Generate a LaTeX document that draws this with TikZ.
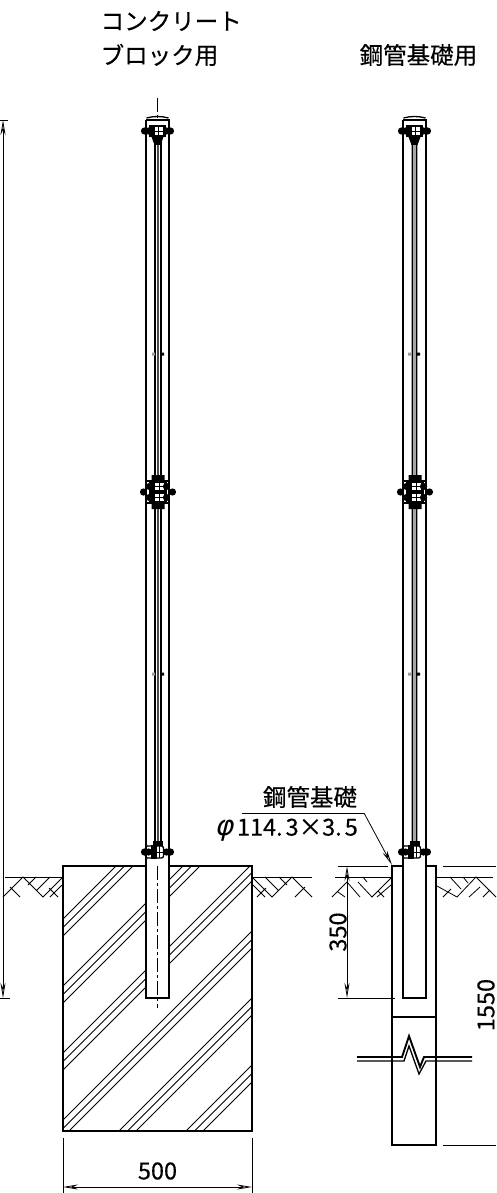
\documentclass[tikz,border=0pt]{standalone}
\usepackage{fontspec}
\setmainfont[FakeBold=0.4]{Noto Sans CJK JP}
\newfontfamily\slantfont[FakeSlant=0.25]{DejaVu Sans}
\usetikzlibrary{arrows.meta,calc}
\tikzset{
  heavy/.style={line width=1.9pt},
  medium/.style={line width=1.3pt},
  fine/.style={line width=.8pt},
  centerline/.style={line width=.8pt,dash pattern=on 14pt off 3pt on 3pt off 3pt},
  dimline/.style={line width=.8pt,{Stealth[open,length=15pt,width=5pt]}-{Stealth[open,length=15pt,width=5pt]}},
  label/.style={inner sep=0,font=\fontsize{23.5}{23.5}\selectfont},
  bolt/.pic={\fill (0,0) circle (3.6);},
  capclamp/.pic={
    \draw[medium] (-12,-11) -- (12,-11);
    \draw[medium] (-11,-13) .. controls (-4,-15) and (4,-15) .. (11,-13);
    \fill (-9,-6) rectangle (8,6);
    \fill[white] (-3,-4) rectangle (5,4);
    \draw[fine] (1,-5) -- (1,5) (-4,0) -- (6,0);
    \foreach \bx in {-13,-9,13,9} \pic at (\bx,0) {bolt};
    \fill (-6,6) -- (6,6) -- (3,14) -- (-3,14) -- cycle;
  },
  midclamp/.pic={
    \draw[medium] (-12,-11) rectangle (12,11);
    \fill (-9,-12) rectangle (9,12);
    \foreach \gy in {-5.5,5.5} {
      \fill[white] (-3,\gy-3.5) rectangle (6,\gy+3.5);
      \draw[fine] (1.5,\gy-4.5) -- (1.5,\gy+4.5) (-4,\gy) -- (7,\gy);
      \pic at (-8,\gy) {bolt};
      \pic at (9,\gy) {bolt};
    }
    \foreach \bx in {-14,15} \pic at (\bx,0) {bolt};
    \fill (-6,-17) rectangle (7,-11) (-6,11) rectangle (7,17);
  },
  baseclamp/.pic={
    \draw[medium,rounded corners=2pt] (-12,-6) rectangle (6,6);
    \fill (-7,-7) rectangle (-1,7);
    \fill (-5,-11) rectangle (5,-6);
    \foreach \bx in {-13,-9,9,13} \pic at (\bx,0) {bolt};
    \draw[fine] (2,-6) -- (2,6) (-1,0) -- (6,0);
  },
}
\begin{document}
\begin{tikzpicture}[x=1pt,y=-1pt]
\useasboundingbox (0,0) rectangle (496,1193);

% Titles
\node[label,anchor=west] (title1) at (100.5,21) {コンクリート};
\node[label,anchor=west] (title2) at (100.5,55) {ブロック用};
\node[label,anchor=west] (title3) at (359.5,55) {鋼管基礎用};

% Block
\begin{scope}
\clip (63,866) rectangle (252,1131);
\foreach \k in {0,...,5}
  \foreach \d in {0,8.5,17} {
    \pgfmathsetmacro\c{982+67*\k+\d}
    \draw[fine] (\c-1131,1131) -- (\c-866,866);
  }
\end{scope}
\draw[heavy] (63,866) rectangle (252,1131);

% Left pole
\fill[white] (146,860) rectangle (169,998);
\draw[heavy] (146,120) -- (146,998) -- (169,998) -- (169,120);
\draw[medium] (155,135) -- (155,845) (161,135) -- (161,845);
\draw[medium,black!70] (158,135) -- (158,845);
\draw[centerline] (157.5,98) -- (157.5,120);
\draw[centerline] (157.5,866) -- (157.5,1008);
\pic at (157.5,131) {capclamp};
\pic at (157.5,492) {midclamp};
\pic at (157.5,852) {baseclamp};
\fill (161,352.5) rectangle (164,355.5) (161,672.5) rectangle (164,675.5);
\fill[black!40] (152,352.5) rectangle (155,355.5) (152,672.5) rectangle (155,675.5);

% Foundation
\draw[heavy] (403,866) -- (392,866) -- (392,1145) -- (436,1145) -- (436,866) -- (426,866);
\draw[heavy] (392,1017) -- (436,1017);

% Right pole
\draw[heavy] (403,120) -- (403,998) -- (426,998) -- (426,120);
\draw[line width=7pt,black!35] (414.5,135) -- (414.5,845);
\draw[medium] (412.5,135) -- (412.5,845) (416.5,135) -- (416.5,845);
\pic at (414.5,131) {capclamp};
\pic at (414.5,492) {midclamp};
\pic at (414.5,852) {baseclamp};
\fill (417,352.5) rectangle (420,355.5) (417,672.5) rectangle (420,675.5);
\fill[black!40] (408,352.5) rectangle (411,355.5) (408,672.5) rectangle (411,675.5);

% Break mark
\draw[heavy] (357,1057) -- (402,1057) -- (409,1036) -- (420,1067) -- (424,1057) -- (472,1057);
\draw[medium] (357,1061) -- (404,1061) -- (409,1046) -- (419,1074) -- (426,1061) -- (472,1061);

% Ground
\draw[fine] (5,877) -- (63,877) (252,877) -- (312,877);
\draw[fine] (3,897) -- (23,877) -- (43,897) -- (62,878) (10,887) -- (20,897) (28,885) -- (36,877) (37,890) -- (50,877) (49,888) -- (58,897) (50,897) -- (62,885);
\draw[fine] (312,897) -- (292,877) -- (272,897) -- (253,878) (305,887) -- (295,897) (287,885) -- (279,877) (278,890) -- (265,877) (266,888) -- (257,897) (265,897) -- (253,885);
\draw[fine] (335,877) -- (392,877) (437,877) -- (493,877);
\draw[fine] (332,897) -- (347,882) -- (360,897) (358,882) -- (372,897) -- (391,878) (338,892) -- (345,897) (363,877) -- (367,882) (377,897) -- (391,885) (378,891) -- (384,897);
\draw[fine] (437,886) -- (457,897) -- (476,877) -- (496,897) (443,897) -- (451,889) (450,877) -- (461,889) (463,877) -- (468,883) (469,897) -- (480,887) (483,897) -- (490,890);

% Dimensions
\coordinate (h1) at (3,120);
\coordinate (h2) at (3,998);
\draw[fine] (0,120) -- (8,120) (0,998) -- (10,998);
\draw[dimline] (h1) -- (h2);

\coordinate (w1) at (63,1187);
\coordinate (w2) at (252,1187);
\draw[fine] (63,1138) -- (63,1193) (252,1138) -- (252,1193);
\draw[dimline] (w1) -- (w2);
\node[label] (w500) at (157.5,1171) {500};

\coordinate (d1) at (347,866);
\coordinate (d2) at (347,998);
\draw[fine] (338,866) -- (388,866) (338,998) -- (395,998);
\draw[dimline] (d1) -- (d2);
\node[label,rotate=90] (d350) at (338,932) {350};

\draw[fine] (443,866) -- (496,866) (443,1145) -- (496,1145);
\node[label,rotate=90] (d1550) at (486,1005) {1550};

% Leader
\coordinate (l1) at (242,813);
\coordinate (l2) at (364,813);
\coordinate (l3) at (392,865);
\draw[fine] (l1) -- (l2);
\draw[fine,-{Stealth[open,length=15pt,width=5pt]}] (l2) -- (l3);
\node[label] (pipe1) at (310,797) {鋼管基礎};
\node[label,anchor=east] (pipe2) at (358,830) {{\slantfont\fontsize{28}{28}\selectfont φ}\hspace{4pt}114.\hspace{3pt}3×3.\hspace{3pt}5};
\end{tikzpicture}
\end{document}
